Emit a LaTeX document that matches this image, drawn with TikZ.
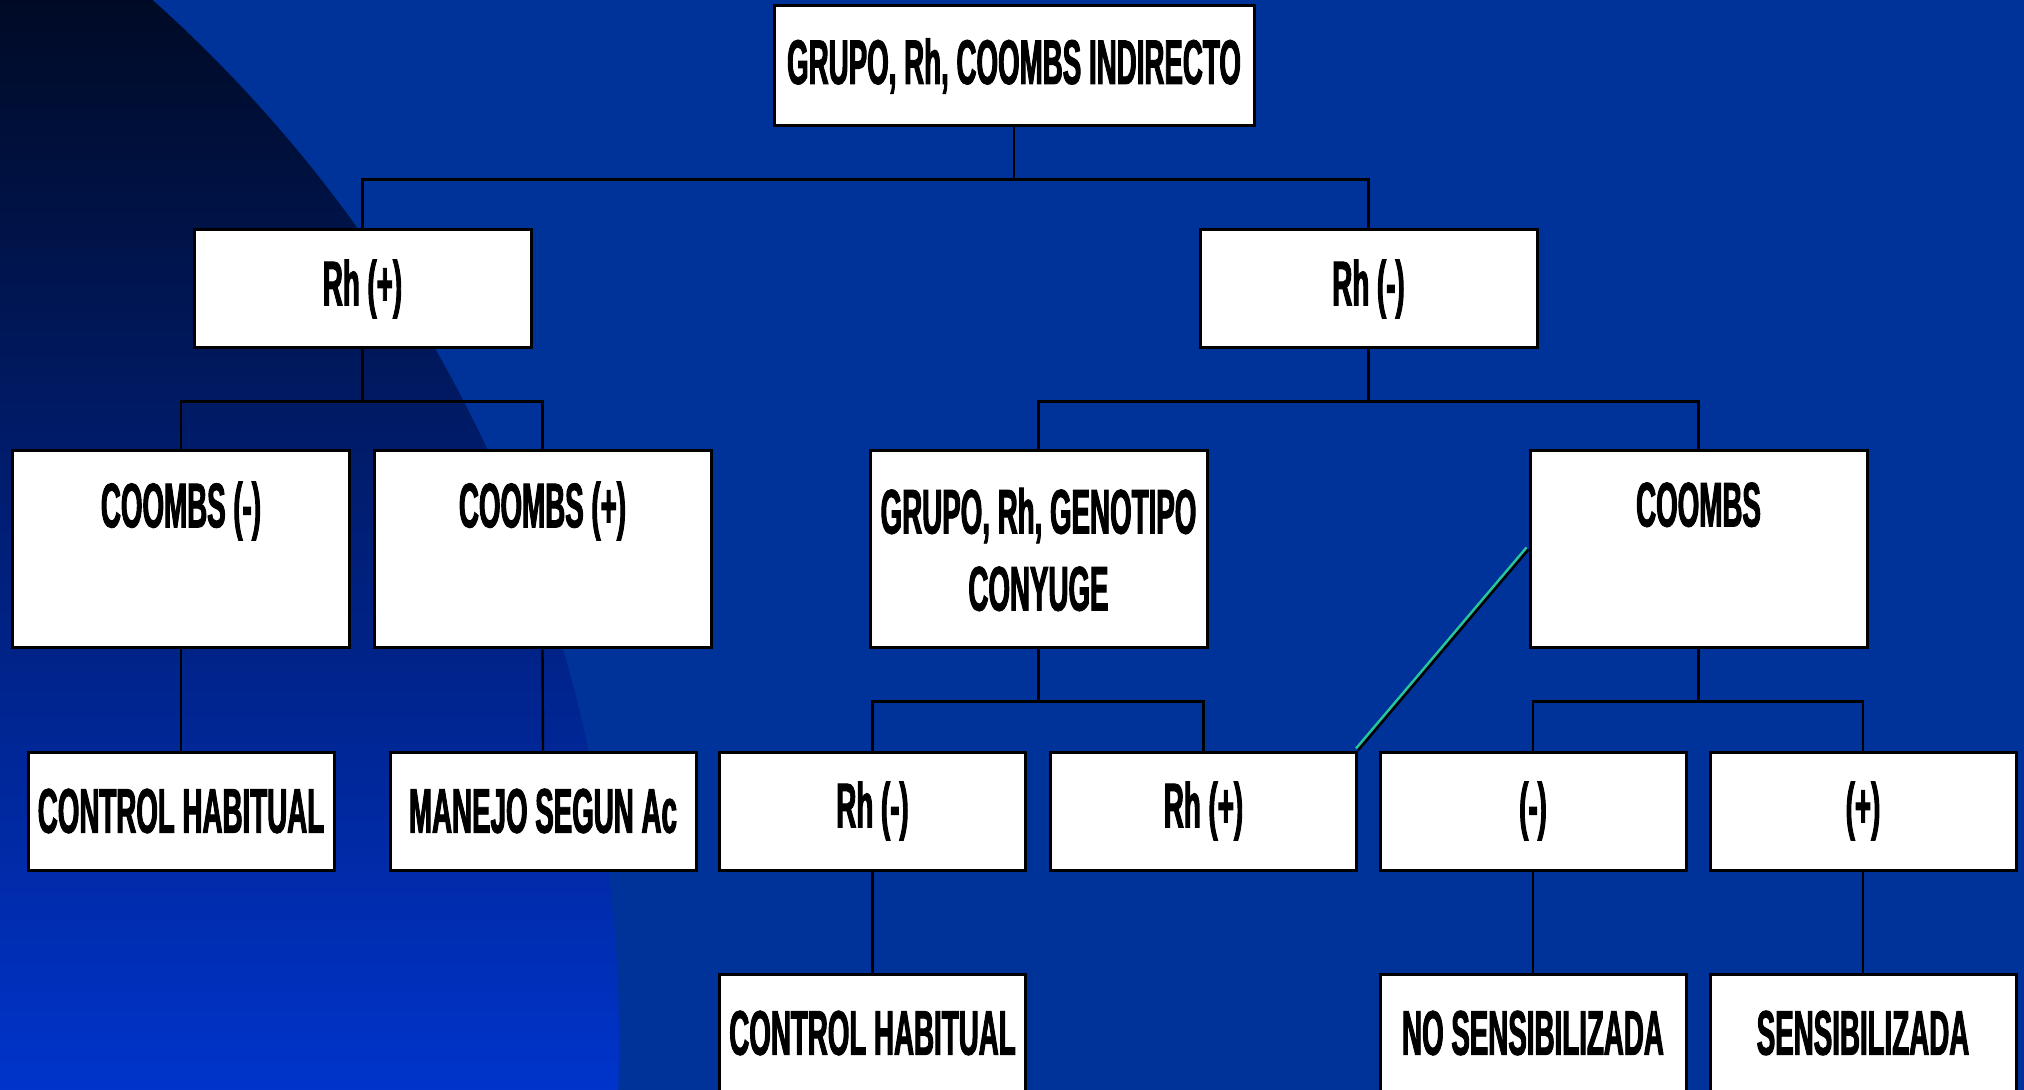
\documentclass[tikz,border=0pt]{standalone}
\usepackage{fontspec}
\newfontfamily\boxfont{Liberation Sans}[FakeStretch=0.44,FakeBold=1.5]
\definecolor{bgblue}{RGB}{0,51,153}
\definecolor{darknavy}{RGB}{0,10,36}
\definecolor{brightblue}{RGB}{0,52,204}
\definecolor{tealline}{RGB}{40,200,150}
\begin{document}
\begin{tikzpicture}[x=0.5pt,y=-0.5pt,
  box/.style={draw=black, line width=1.5pt, fill=white, inner sep=0pt, align=center,
    font=\boxfont\bfseries\fontsize{31.5}{38.5}\selectfont},
  topbox/.style={box, minimum width=240pt, minimum height=60pt},
  wide/.style={box, minimum width=168.5pt, minimum height=59pt},
  tall/.style={box, minimum width=168.5pt, minimum height=98.5pt},
  small/.style={box, minimum width=153pt, minimum height=59pt},
  link/.style={draw=black, line width=1.2pt}]
\useasboundingbox (0,0) rectangle (2024,1090);
\clip (0,0) rectangle (2024,1090);
% background
\fill[bgblue] (0,0) rectangle (2024,1090);
\begin{scope}
  \clip (-778,1042) circle[radius=1397];
  \shade[top color=darknavy, bottom color=brightblue] (-10,-10) rectangle (700,1100);
\end{scope}
% nodes
\node[topbox] (top) at (1014,66) {GRUPO, Rh, COOMBS INDIRECTO};
\node[wide] (rhp) at (362.5,289) {Rh (+)};
\node[wide] (rhn) at (1368.5,289) {Rh (-)};
\node[tall] (cn) at (181,549.5) {COOMBS (-)\\\phantom{(X)}};
\node[tall] (cp) at (542.5,549.5) {COOMBS (+)\\\phantom{(X)}};
\node[tall] (geno) at (1038.5,549.5) {GRUPO, Rh, GENOTIPO\\CONYUGE};
\node[tall] (coombs) at (1698.5,549.5) {COOMBS\\\phantom{(X)}};
\node[small] (ch1) at (181,811) {CONTROL HABITUAL};
\node[small] (manejo) at (543,811) {MANEJO SEGUN Ac};
\node[small] (rhn2) at (872.5,811) {Rh (-)};
\node[small] (rhp2) at (1203.5,811) {Rh (+)};
\node[small] (neg) at (1533,811) {(-)};
\node[small] (pos) at (1863,811) {(+)};
\node[small] (ch2) at (872.5,1033) {CONTROL HABITUAL};
\node[small] (nosens) at (1533,1033) {NO SENSIBILIZADA};
\node[small] (sens) at (1863,1033) {SENSIBILIZADA};
% connectors
\draw[link] (top.south) -- ++(0,52) coordinate (b1);
\draw[link] (rhp.north) |- (b1) -| (rhn.north);
\draw[link] (rhp.south) -- ++(0,52) coordinate (b2);
\draw[link] (cn.north) |- (b2) -| (cp.north);
\draw[link] (rhn.south) -- ++(0,52) coordinate (b3);
\draw[link] (geno.north) |- (b3) -| (coombs.north);
\draw[link] (cn.south) -- (ch1.north);
\draw[link] (cp.south) -- (manejo.north);
\draw[link] (geno.south) -- ++(0,52) coordinate (b4);
\draw[link] (rhn2.north) |- (b4) -| (rhp2.north);
\draw[link] (coombs.south) -- ++(0,52) coordinate (b5);
\draw[link] (neg.north) |- (b5) -| (pos.north);
\draw[link] (rhn2.south) -- (ch2.north);
\draw[link] (neg.south) -- (nosens.north);
\draw[link] (pos.south) -- (sens.north);
\draw[tealline, line width=1.2pt] ([shift={(-2,-2)}]rhp2.north east) -- ([shift={(-2,-2)}]coombs.west);
\draw[black, line width=1.2pt] (rhp2.north east) -- (coombs.west);
\end{tikzpicture}
\end{document}
